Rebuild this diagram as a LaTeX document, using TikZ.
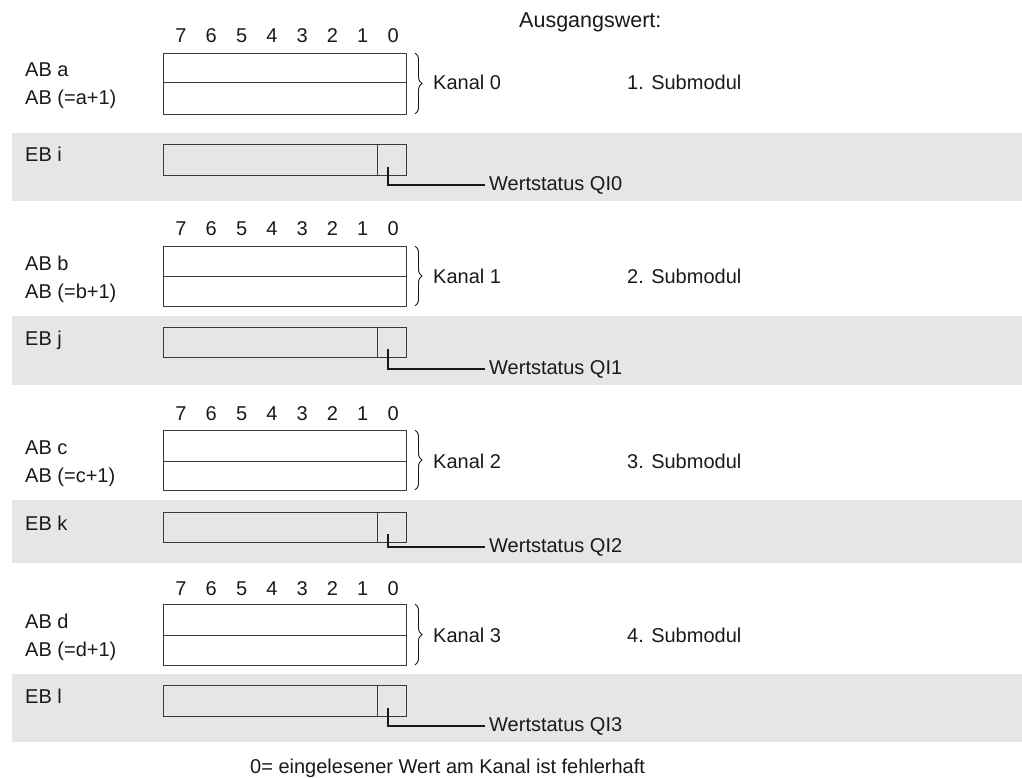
\documentclass[tikz,border=0pt]{standalone}
\usepackage{fontspec}
\setmainfont{Liberation Sans}
\usetikzlibrary{decorations.pathreplacing}
\definecolor{band}{HTML}{E6E6E6}
\definecolor{ink}{HTML}{1A1A1A}
\definecolor{frame}{HTML}{3A3A3A}
\tikzset{
  lbl/.style={anchor=base west, inner sep=0pt, text=ink, font=\fontsize{20}{23}\selectfont},
  bigl/.style={anchor=base west, inner sep=0pt, text=ink, font=\fontsize{21.5}{24}\selectfont},
  digit/.style={anchor=base, inner sep=0pt, text=ink, font=\fontsize{20}{22}\selectfont},
  cell/.style={draw=frame, line width=1pt, inner sep=0pt},
  conn/.style={draw=ink, line width=1.2pt},
  bracel/.style={draw=ink, line width=0.9pt, decorate, decoration={brace, amplitude=7pt}}
}
\begin{document}
\begin{tikzpicture}[x=1pt,y=-1pt]
\useasboundingbox (0,0) rectangle (1022,778);
\fill[white] (0,0) rectangle (1022,778);
\node[bigl] (head) at (519,28) {Ausgangswert:};
\foreach \s/\dy/\bt/\bm/\bb/\gt/\gb/\et/\eb/\ly/\ab/\eL/\k in {
  1/36/53/83/114/133/201/144/175/185/a/i/0,
  2/228/246/276/306/316/385/327/357/369/b/j/1,
  3/413/430/461/490/500/563/512/542/547/c/k/2,
  4/588/604/635/665/674/742/685/716/726/d/l/3}{
  % band
  \fill[band] (12,\gt) rectangle (1022,\gb);
  % digits
  \foreach \i [evaluate=\i as \dx using 181+30.3*(7-\i)] in {7,6,...,0}{
    \node[digit] (d\s-\i) at (\dx,\dy+7) {\i};
  }
  % AB boxes
  \node[cell, fill=white, minimum width=243pt, minimum height=\bb-\bt, anchor=north west] (hi\s) at (163,\bt) {};
  \coordinate (ml\s) at (163,\bm);
  \coordinate (mr\s) at (406,\bm);
  \draw[draw=frame, line width=1pt] (ml\s) -- (mr\s);
  % EB box
  \node[cell, minimum width=214pt, minimum height=\eb-\et, anchor=north west] (eb\s) at (163,\et) {};
  \node[cell, minimum width=29pt, minimum height=\eb-\et, anchor=north west] (st\s) at (377,\et) {};
  % labels
  \node[lbl] (la\s) at (25,\bt+24) {AB \ab};
  \node[lbl] (lb\s) at (25,\bt+52) {AB (=\ab+1)};
  \node[lbl] (le\s) at (25,\et+18) {EB \eL};
  \node[lbl] (ka\s) at (433,\bm+7) {Kanal \k};
  \node[lbl] (sm\s) at (627,\bm+7) {\s. Submodul};
  \draw[bracel] (415,\bt) -- (415,\bb);
  % status connector
  \coordinate (p\s) at (388,\eb-8);
  \node[lbl, anchor=west, inner xsep=4pt] (ws\s) at (485,\ly) {Wertstatus QI\k};
  \draw[conn] (p\s) |- (ws\s.west);
}
\node[lbl] (foot) at (250,773) {0= eingelesener Wert am Kanal ist fehlerhaft};
\end{tikzpicture}
\end{document}
